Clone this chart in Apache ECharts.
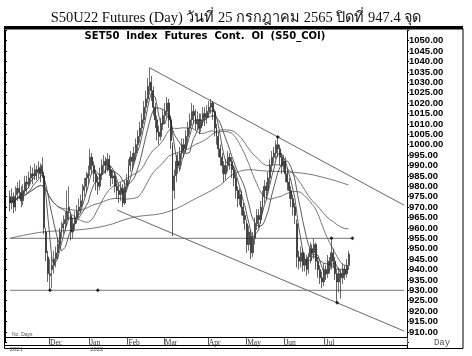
<!DOCTYPE html>
<html><head><meta charset="utf-8">
<script src="https://cdn.jsdelivr.net/npm/echarts@6/dist/echarts.min.js"></script>
<style>html,body{margin:0;padding:0;background:#fff}#c{width:472px;height:356px}</style>
</head><body><div id="c"></div>
<script>
// ---- data ----
const monthNames = ['Nov','Dec','Jan','Feb','Mar','Apr','May','Jun','Jul'];
const monthDays  = [21,21,20,19,23,20,20,21,13];
const yearLabels = [['2021',0],['2022',42]];
const opens = [
 975,972,975,970,976,979,977,973,978,982,981,984,986,985,988,987,989,986,985,958,946,
 937,940,942,945,948,952,958,960,962,964,968,966,958,962,965,968,970,973,978,980,984,
 988,994,990,986,982,980,986,990,992,990,993,988,984,985,980,978,976,979,972,980,
 983,990,994,992,996,1000,1004,1008,1012,1018,1022,1028,1030,1026,1018,1012,1006,1004,1010,
 1014,1016,1020,1012,1000,978,985,992,990,996,1000,998,1004,1008,1012,1016,1014,1010,1012,1008,1012,1015,1013,
 1016,1018,1020,1016,1008,1004,998,994,990,986,990,994,992,988,984,978,974,976,970,966,
 962,952,956,948,955,962,966,964,970,975,980,978,984,990,994,996,1000,998,994,990,
 992,986,982,978,974,970,962,946,944,948,942,945,940,946,950,948,952,944,940,936,934,
 940,938,944,942,948,944,938,934,938,936,940,938,942];
const closes = [
 972,975,970,976,979,977,973,978,982,981,984,986,985,988,987,989,986,990,960,948,938,
 938,942,945,948,952,958,960,962,964,968,970,958,962,965,968,970,973,978,980,984,986,
 994,990,986,982,980,986,990,992,990,993,988,984,985,980,978,976,979,972,980,983,
 990,994,992,996,1000,1004,1008,1012,1018,1022,1028,1030,1026,1018,1012,1006,1004,1010,1014,
 1016,1020,1012,1002,978,985,992,990,996,1000,998,1004,1008,1012,1016,1014,1010,1012,1008,1012,1015,1013,1016,
 1018,1020,1016,1008,1004,998,994,990,986,990,994,992,988,984,978,974,976,970,966,964,
 952,958,948,955,962,966,964,970,975,980,978,984,990,994,996,1000,998,994,990,992,
 986,982,978,974,970,966,946,944,948,942,945,940,946,950,948,952,944,940,936,934,940,
 938,944,942,948,944,938,934,938,936,940,938,942,947.4];
const lows = [
 968,969,967,968,973,974,970,971,976,977,979,982,981,983,983,984,982,984,957,944,934,
 930,931,938,941,945,950,955,957,959,961,964,954,955,959,962,965,967,971,975,977,981,
 985,986,982,978,976,978,983,987,986,987,985,980,981,977,974,972,973,970,971,977,
 981,987,988,990,993,997,1001,1005,1010,1015,1020,1024,1021,1014,1008,1002,1000,1002,1007,
 1010,1013,1008,998,956,974,982,986,987,993,994,996,1001,1005,1009,1010,1007,1007,1005,1006,1009,1009,1010,
 1013,1015,1012,1004,1000,994,990,986,982,983,987,988,984,980,974,970,971,966,962,959,
 948,949,945,946,952,959,960,962,967,972,974,976,981,987,991,993,994,990,986,987,
 982,978,974,970,966,962,941,940,941,939,939,937,938,943,944,945,940,936,933,931,932,
 935,936,938,940,941,935,924,929,926,933,935,936,940];
const highs = [
 978,979,977,980,982,983,980,981,985,985,987,990,989,991,990,992,991,994,987,960,949,
 945,946,949,951,955,960,963,966,968,978,980,968,965,968,971,974,976,981,984,987,990,
 998,996,992,988,985,989,993,995,994,996,995,990,988,987,983,981,982,981,983,986,
 993,997,996,999,1003,1007,1011,1015,1021,1026,1032,1037,1033,1028,1020,1014,1009,1013,1017,
 1020,1023,1022,1014,1001,988,995,996,999,1003,1003,1007,1011,1015,1020,1019,1017,1016,1015,1015,1018,1018,1019,
 1021,1022,1021,1017,1010,1006,1000,996,992,993,997,996,994,990,986,980,979,978,972,968,
 964,961,959,958,965,969,969,973,978,983,982,987,993,997,999,1002,1003.5,1000,996,995,
 994,988,984,980,976,972,964,949,951,950,948,947,948,953,952,955,953,946,942,939,943,
 942,947,946,954.5,950,946,940,941,940,943,942,945,949];
// long moving average read at a few days: [dayIndex, value]
const longMA = [[0,955],[17,958],[35,959],[50,961],[64,965],[82,967.6],[99,975],[110,980.6],[117,986],[126,988],[131,987.5],[152,986.4],[165,984],[177,980.6]];
const maPeriods = [5,10,25,50];
// trend lines: [dayIndex, value]
const upperChannel = [[73,1037],[206,970.9]];
const lowerChannel = [[56,968.6],[206,910.4]];
const resistance = [[0,955],[179,955]];
const support = [[0,930],[206,930]];
const pivots = [[21,930],[46,930],[168,955],[179,955],[140,1003.7],[171,924]];
const lastPrice = 947.4;
const yTicksMin = 905, yTicksMax = 1055, yStep = 5;

// ---- build ----
const LEAD = 2, TRAIL = 30;
const categories = [];
for (let k = 0; k < LEAD; k++) categories.push('pre' + k);
const monthStart = {};
let p = LEAD;
monthNames.forEach((m, mi) => { monthStart[p] = m; for (let d = 1; d <= monthDays[mi]; d++) categories.push(m + ' ' + d); p += monthDays[mi]; });
for (let k = 0; k < TRAIL; k++) categories.push('post' + k);
const yearAt = {}; yearLabels.forEach(([y, i]) => yearAt[i + LEAD] = y);

const ohlc = closes.map((c, i) => [i + LEAD, opens[i], c, lows[i], highs[i]]);
const shift = arr => arr.map(([i, v]) => [i + LEAD, v]);
function movingAvg(n) {
  return closes.map((c, i) => { const s = Math.max(0, i - n + 1); let t = 0; for (let j = s; j <= i; j++) t += closes[j]; return [i + LEAD, +(t / (i - s + 1)).toFixed(2)]; });
}
const thin = (name, data, extra) => Object.assign({ type: 'line', name, data, symbol: 'none', silent: true, lineStyle: { color: '#444', width: 0.8 }, z: 3 }, extra || {});

const chart = echarts.init(document.getElementById('c'));
const option = {
  animation: false,
  title: { text: 'S50U22 Futures (Day) วันที่ 25 กรกฎาคม 2565 ปิดที่ 947.4 จุด', left: 'center', top: 6,
    textStyle: { fontFamily: '"Liberation Serif","DejaVu Serif",serif', fontSize: 14.5, fontWeight: 'normal', color: '#111' } },
  grid: { left: 5, right: 65, top: 30.3, bottom: 13.7 },
  xAxis: [
    { type: 'category', data: categories, boundaryGap: true, offset: -4.6,
      axisLine: { lineStyle: { color: '#000', width: 1 } },
      axisTick: { show: true, length: 7, interval: (i) => !!monthStart[i] && i !== LEAD, lineStyle: { color: '#555' } },
      axisLabel: { interval: (i) => !!monthStart[i] && i !== LEAD, formatter: v => v.split(' ')[0], align: 'left', margin: 1,
        fontSize: 7.5, fontFamily: '"Liberation Serif",serif', color: '#333' },
      splitLine: { show: false } },
    { type: 'category', data: categories, boundaryGap: true, offset: 2.7, position: 'bottom',
      axisLine: { lineStyle: { color: '#000', width: 1 } }, axisTick: { show: false },
      axisLabel: { interval: (i) => !!yearAt[i], formatter: (v, i) => yearAt[i] || '', align: 'left', margin: 0.5,
        fontSize: 6.5, fontFamily: '"Liberation Serif",serif', color: '#333' } }
  ],
  yAxis: [
    { type: 'value', position: 'right', min: yTicksMin, max: yTicksMax, interval: yStep, scale: true,
      axisLine: { show: true, lineStyle: { color: '#000', width: 1 } },
      axisTick: { show: true, length: 2, lineStyle: { color: '#000' } },
      axisLabel: { margin: 2, fontSize: 9.5, fontWeight: 'bold', fontFamily: '"Liberation Sans",Arial,sans-serif', color: '#000',
        formatter: v => (v === yTicksMin || v === yTicksMax) ? '' : v.toFixed(2) },
      splitLine: { show: false } },
    { type: 'value', position: 'left', min: yTicksMin, max: yTicksMax, interval: yStep,
      axisLine: { show: true, lineStyle: { color: '#000', width: 1 } },
      axisTick: { show: true, inside: true, length: 2, lineStyle: { color: '#000' } },
      axisLabel: { show: false }, splitLine: { show: false } }
  ],
  series: [
    thin('long', shift(longMA), { smooth: 0.4, lineStyle: { color: '#555', width: 0.8 } }),
    ...maPeriods.map(n => thin('MA' + n, movingAvg(n), { lineStyle: { color: n <= 10 ? '#333' : '#555', width: 0.8 } })),
    thin('upper', shift(upperChannel), { lineStyle: { color: '#555', width: 0.9 } }),
    thin('lower', shift(lowerChannel), { lineStyle: { color: '#555', width: 0.9 } }),
    thin('res', shift(resistance), { lineStyle: { color: '#666', width: 0.9 } }),
    thin('sup', shift(support), { lineStyle: { color: '#666', width: 0.9 } }),
    { type: 'candlestick', data: ohlc, encode: { x: 0, y: [1, 2, 3, 4] }, barWidth: 1.4, silent: true, z: 5,
      itemStyle: { color: '#333', color0: '#222', borderColor: '#333', borderColor0: '#222', borderWidth: 0.7 },
      markLine: { silent: true, symbol: 'none', data: [{ yAxis: lastPrice }], lineStyle: { opacity: 0 },
        label: { position: 'end', distance: 2, formatter: () => lastPrice.toFixed(2), color: '#fff', backgroundColor: '#000',
          fontWeight: 'bold', fontSize: 11, fontFamily: '"Liberation Sans",Arial,sans-serif', padding: [1, 1, 0, 1] } } },
    { type: 'scatter', data: shift(pivots), symbol: 'diamond', symbolSize: 4, itemStyle: { color: '#000' }, silent: true, z: 6 }
  ],
  graphic: [
    { type: 'rect', shape: { x: 4.5, y: 28.5, width: 458.5, height: 320 }, style: { fill: 'none', stroke: '#000', lineWidth: 1 }, silent: true },
    { type: 'rect', shape: { x: 4, y: 26, width: 459, height: 3.5 }, style: { fill: '#000' }, silent: true },
    { type: 'line', shape: { x1: 407.5, y1: 340, x2: 407.5, y2: 349 }, style: { stroke: '#000', lineWidth: 1 }, silent: true },
    { type: 'text', x: 205, y: 36, style: { text: 'SET50  Index  Futures  Cont.  OI  (S50_COI)', font: 'bold 10px "DejaVu Sans",sans-serif', fill: '#000', textAlign: 'center', textVerticalAlign: 'middle' }, silent: true },
    { type: 'text', x: 12, y: 335, style: { text: 'No. Days', font: '5px "Liberation Sans",sans-serif', fill: '#555', textVerticalAlign: 'middle' }, silent: true },
    { type: 'text', x: 442, y: 343, style: { text: 'Day', font: '9px "Liberation Mono",monospace', fill: '#555', textAlign: 'center', textVerticalAlign: 'middle' }, silent: true }
  ]
};
chart.setOption(option);
</script></body></html>
